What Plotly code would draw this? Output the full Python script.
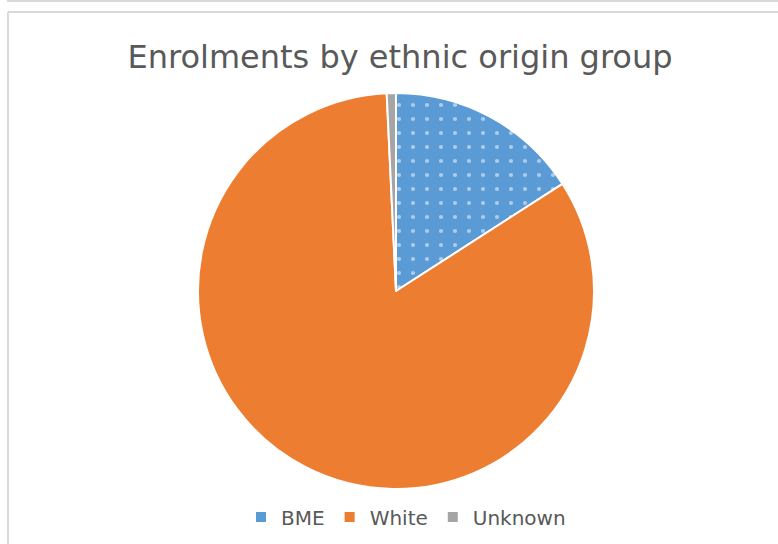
import plotly.graph_objects as go

W, H = 778, 544
labels = ["BME", "White", "Unknown"]
values = [15.9, 83.35, 0.75]
colors = ["#5B9BD5", "#ED7D31", "#A5A5A5"]
title = "Enrolments by ethnic origin group"

cx, cy, r = 396, 291, 198

fig = go.Figure(go.Pie(
    labels=labels, values=values, sort=False, direction="clockwise", rotation=0,
    textinfo="none", hoverinfo="label+percent",
    marker=dict(colors=colors, line=dict(color="white", width=2),
                pattern=dict(shape=[".", "", ""], fgcolor="white", size=14, solidity=0.07,
                             fillmode="overlay")),
    domain=dict(x=[(cx - r) / W, (cx + r) / W], y=[(H - cy - r) / H, (H - cy + r) / H]),
))

fig.update_layout(
    width=W, height=H, margin=dict(l=0, r=0, t=0, b=0),
    paper_bgcolor="white", plot_bgcolor="white",
    font=dict(family="DejaVu Sans", color="#595959"),
    title=dict(text=title, x=400 / W, xanchor="center", y=1 - 57 / H, yanchor="middle",
               font=dict(size=32, color="#595959", family="DejaVu Sans")),
    legend=dict(orientation="h", x=406 / W, xanchor="center", y=1 - 517 / H, yanchor="middle",
                font=dict(size=20, color="#595959"), itemwidth=30, traceorder="normal"),
    shapes=[
        dict(type="line", xref="paper", yref="paper", x0=7 / W, x1=1.01, y0=1 - 1 / H, y1=1 - 1 / H,
             line=dict(color="#d9d9d9", width=2)),
        dict(type="line", xref="paper", yref="paper", x0=8 / W, x1=1.01, y0=1 - 12 / H, y1=1 - 12 / H,
             line=dict(color="#d9d9d9", width=2)),
        dict(type="line", xref="paper", yref="paper", x0=8 / W, x1=8 / W, y0=1 - 12 / H, y1=-0.01,
             line=dict(color="#d9d9d9", width=2)),
    ],
)

fig.write_html("out.html")
